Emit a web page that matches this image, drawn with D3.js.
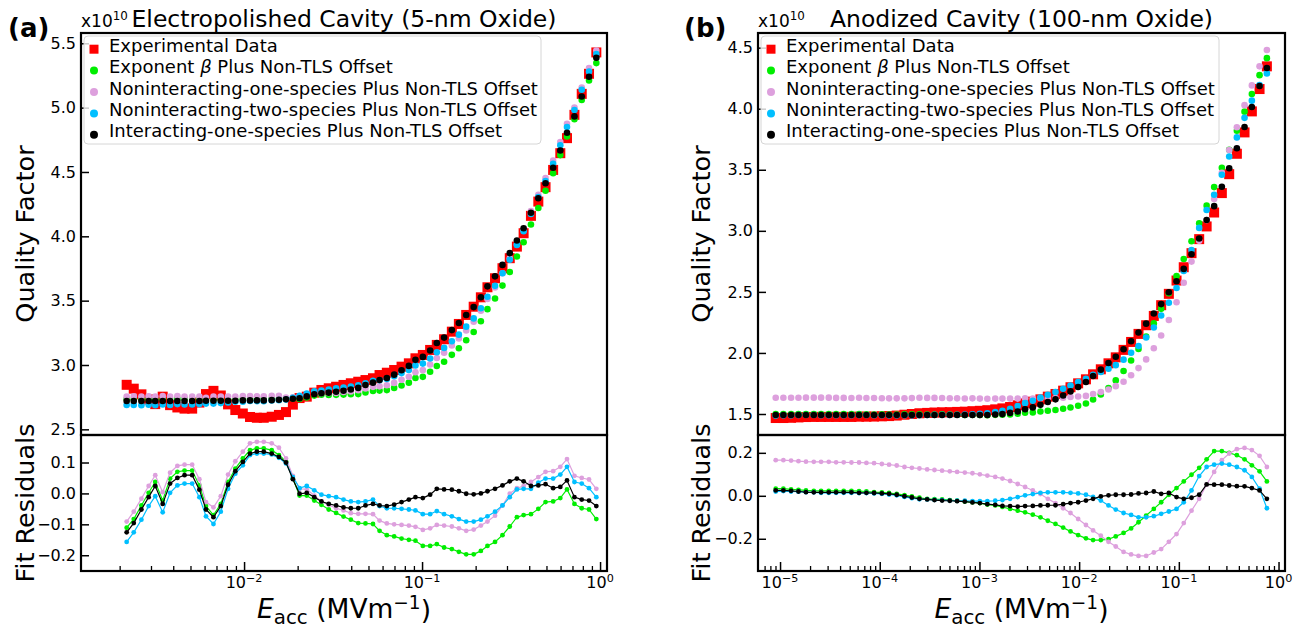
<!DOCTYPE html>
<html>
<head>
<meta charset="utf-8">
<script src="https://cdnjs.cloudflare.com/ajax/libs/d3/7.8.5/d3.min.js"></script>
<style>
  body { margin: 0; background: #fff; }
  text { font-family: "DejaVu Sans", sans-serif; }
</style>
</head>
<body>
<svg id="chart" width="1302" height="628"></svg>
<script>
// legend / series
const seriesLabels = ["Experimental Data", "Exponent \u03b2 Plus Non-TLS Offset",
  "Noninteracting-one-species Plus Non-TLS Offset", "Noninteracting-two-species Plus Non-TLS Offset",
  "Interacting-one-species Plus Non-TLS Offset"];
const seriesColors = ["#ff0000", "#00ee00", "#dda0dd", "#00bfff", "#000000"];

// ---- panel (a): electropolished cavity ----
const eaccA = [0.00219, 0.00240, 0.00265, 0.00291, 0.00317, 0.00349, 0.00384, 0.00422, 0.00463, 0.00511,
  0.00561, 0.00611, 0.00673, 0.00740, 0.00813, 0.00893, 0.00984, 0.0108, 0.0118, 0.0129,
  0.0143, 0.0157, 0.0172, 0.0188, 0.0205, 0.0225, 0.0248, 0.0272, 0.0299, 0.0329,
  0.0362, 0.0398, 0.0438, 0.0481, 0.0530, 0.0577, 0.0634, 0.0697, 0.0767, 0.0843,
  0.0918, 0.101, 0.111, 0.121, 0.133, 0.147, 0.161, 0.177, 0.195, 0.214,
  0.233, 0.257, 0.283, 0.311, 0.341, 0.372, 0.409, 0.450, 0.494, 0.545,
  0.598, 0.652, 0.718, 0.789, 0.867, 0.953];
const qExpA = [2.846, 2.816, 2.772, 2.732, 2.696, 2.754, 2.688, 2.670, 2.661, 2.661,
  2.708, 2.774, 2.799, 2.763, 2.694, 2.650, 2.623, 2.596, 2.590, 2.590,
  2.598, 2.612, 2.634, 2.692, 2.743, 2.754, 2.785, 2.806, 2.819, 2.831,
  2.845, 2.858, 2.870, 2.883, 2.897, 2.922, 2.940, 2.961, 2.987, 3.013,
  3.052, 3.078, 3.117, 3.156, 3.200, 3.259, 3.319, 3.389, 3.453, 3.526,
  3.604, 3.674, 3.752, 3.830, 3.920, 4.024, 4.159, 4.270, 4.382, 4.516,
  4.646, 4.763, 4.944, 5.107, 5.263, 5.429];
const qBetaA = [2.735, 2.733, 2.733, 2.734, 2.733, 2.731, 2.736, 2.740, 2.735, 2.735,
  2.734, 2.733, 2.729, 2.729, 2.731, 2.730, 2.736, 2.736, 2.736, 2.736,
  2.738, 2.736, 2.738, 2.740, 2.736, 2.747, 2.762, 2.769, 2.767, 2.768,
  2.770, 2.773, 2.774, 2.786, 2.798, 2.801, 2.805, 2.822, 2.841, 2.863,
  2.899, 2.908, 2.947, 2.992, 3.025, 3.079, 3.130, 3.192, 3.256, 3.340,
  3.434, 3.517, 3.617, 3.723, 3.843, 3.954, 4.092, 4.220, 4.354, 4.490,
  4.631, 4.776, 4.910, 5.059, 5.211, 5.346];
const qNonOneA = [2.755, 2.757, 2.755, 2.756, 2.755, 2.758, 2.755, 2.759, 2.754, 2.754,
  2.754, 2.746, 2.754, 2.754, 2.755, 2.754, 2.758, 2.758, 2.757, 2.757,
  2.760, 2.760, 2.747, 2.749, 2.758, 2.767, 2.778, 2.780, 2.782, 2.783,
  2.790, 2.794, 2.804, 2.817, 2.830, 2.834, 2.843, 2.861, 2.885, 2.909,
  2.944, 2.960, 3.004, 3.054, 3.096, 3.152, 3.206, 3.268, 3.336, 3.422,
  3.513, 3.602, 3.713, 3.829, 3.937, 4.048, 4.196, 4.323, 4.452, 4.588,
  4.732, 4.874, 5.001, 5.157, 5.308, 5.444];
const qNonTwoA = [2.689, 2.690, 2.687, 2.691, 2.687, 2.693, 2.690, 2.696, 2.693, 2.693,
  2.696, 2.700, 2.700, 2.704, 2.709, 2.714, 2.714, 2.720, 2.719, 2.719,
  2.724, 2.727, 2.731, 2.745, 2.760, 2.778, 2.795, 2.802, 2.810, 2.819,
  2.825, 2.832, 2.842, 2.857, 2.877, 2.881, 2.892, 2.913, 2.937, 2.961,
  2.997, 3.011, 3.050, 3.099, 3.133, 3.185, 3.236, 3.298, 3.362, 3.441,
  3.530, 3.615, 3.713, 3.818, 3.933, 4.039, 4.174, 4.305, 4.430, 4.564,
  4.707, 4.849, 4.981, 5.139, 5.280, 5.417];
const qIntOneA = [2.720, 2.720, 2.720, 2.720, 2.720, 2.720, 2.720, 2.720, 2.720, 2.720,
  2.720, 2.722, 2.722, 2.722, 2.722, 2.722, 2.725, 2.725, 2.725, 2.725,
  2.727, 2.730, 2.734, 2.738, 2.742, 2.756, 2.773, 2.780, 2.785, 2.792,
  2.800, 2.810, 2.822, 2.844, 2.863, 2.883, 2.899, 2.925, 2.959, 2.993,
  3.040, 3.063, 3.113, 3.171, 3.213, 3.271, 3.326, 3.388, 3.450, 3.526,
  3.611, 3.689, 3.778, 3.869, 3.968, 4.063, 4.183, 4.296, 4.412, 4.533,
  4.667, 4.805, 4.932, 5.087, 5.240, 5.388];
const resBetaA = [-0.111, -0.083, -0.039, 0.002, 0.037, -0.023, 0.048, 0.070, 0.074, 0.074,
  0.026, -0.041, -0.070, -0.034, 0.037, 0.080, 0.113, 0.140, 0.146, 0.146,
  0.140, 0.124, 0.104, 0.048, -0.007, -0.007, -0.023, -0.037, -0.052, -0.063,
  -0.075, -0.085, -0.096, -0.097, -0.099, -0.121, -0.135, -0.139, -0.146, -0.150,
  -0.153, -0.170, -0.170, -0.164, -0.175, -0.180, -0.189, -0.197, -0.197, -0.186,
  -0.170, -0.157, -0.135, -0.107, -0.077, -0.070, -0.067, -0.050, -0.028, -0.026,
  -0.015, 0.013, -0.034, -0.048, -0.052, -0.083];
const resNonOneA = [-0.091, -0.059, -0.017, 0.024, 0.059, 0.004, 0.067, 0.089, 0.093, 0.093,
  0.046, -0.028, -0.045, -0.009, 0.061, 0.104, 0.135, 0.162, 0.167, 0.167,
  0.162, 0.148, 0.113, 0.057, 0.015, 0.013, -0.007, -0.026, -0.037, -0.048,
  -0.055, -0.064, -0.066, -0.066, -0.067, -0.088, -0.097, -0.100, -0.102, -0.104,
  -0.108, -0.118, -0.113, -0.102, -0.104, -0.107, -0.113, -0.121, -0.117, -0.104,
  -0.091, -0.072, -0.039, -0.001, 0.017, 0.024, 0.037, 0.053, 0.070, 0.072,
  0.086, 0.111, 0.057, 0.050, 0.045, 0.015];
const resNonTwoA = [-0.157, -0.126, -0.085, -0.041, -0.009, -0.061, 0.002, 0.026, 0.032, 0.032,
  -0.012, -0.074, -0.099, -0.059, 0.015, 0.064, 0.091, 0.124, 0.129, 0.129,
  0.126, 0.115, 0.097, 0.053, 0.017, 0.024, 0.010, -0.004, -0.009, -0.012,
  -0.020, -0.026, -0.028, -0.026, -0.020, -0.041, -0.048, -0.048, -0.050, -0.052,
  -0.055, -0.067, -0.067, -0.057, -0.067, -0.074, -0.083, -0.091, -0.091, -0.085,
  -0.074, -0.059, -0.039, -0.012, 0.013, 0.015, 0.015, 0.035, 0.048, 0.048,
  0.061, 0.086, 0.037, 0.032, 0.017, -0.012];
const resIntOneA = [-0.126, -0.096, -0.052, -0.012, 0.024, -0.034, 0.032, 0.050, 0.059, 0.059,
  0.012, -0.052, -0.077, -0.041, 0.028, 0.072, 0.102, 0.129, 0.135, 0.135,
  0.129, 0.118, 0.100, 0.046, -0.001, 0.002, -0.012, -0.026, -0.034, -0.039,
  -0.045, -0.048, -0.048, -0.039, -0.034, -0.039, -0.041, -0.036, -0.028, -0.020,
  -0.012, -0.015, -0.004, 0.015, 0.013, 0.012, 0.007, -0.001, -0.003, 0.000,
  0.007, 0.015, 0.026, 0.039, 0.048, 0.039, 0.024, 0.026, 0.030, 0.017,
  0.021, 0.042, -0.012, -0.020, -0.023, -0.041];
const qTicksA = [2.5, 3.0, 3.5, 4.0, 4.5, 5.0, 5.5];
const resTicksA = [-0.2, -0.1, 0.0, 0.1];
const xMajorA = [0.01, 0.1, 1];

// ---- panel (b): anodized cavity ----
const eaccB = [9.05e-6, 1.08e-5, 1.29e-5, 1.53e-5, 1.82e-5, 2.18e-5, 2.58e-5, 3.08e-5, 3.65e-5, 4.35e-5,
  5.20e-5, 6.20e-5, 7.35e-5, 8.77e-5, 1.05e-4, 1.24e-4, 1.48e-4, 1.77e-4, 2.10e-4, 2.50e-4,
  2.99e-4, 3.54e-4, 4.22e-4, 5.04e-4, 5.97e-4, 7.13e-4, 8.51e-4, 1.01e-3, 1.20e-3, 1.44e-3,
  1.70e-3, 2.03e-3, 2.42e-3, 2.87e-3, 3.43e-3, 4.09e-3, 4.85e-3, 5.79e-3, 6.91e-3, 8.19e-3,
  9.77e-3, 1.17e-2, 1.38e-2, 1.65e-2, 1.97e-2, 2.33e-2, 2.79e-2, 3.32e-2, 3.94e-2, 4.70e-2,
  5.61e-2, 6.65e-2, 7.94e-2, 9.48e-2, 0.112, 0.134, 0.160, 0.190, 0.226, 0.270,
  0.320, 0.382, 0.456, 0.540, 0.645, 0.764];
const qExpB = [1.467, 1.467, 1.469, 1.472, 1.475, 1.476, 1.476, 1.476, 1.476, 1.476,
  1.476, 1.478, 1.478, 1.479, 1.481, 1.483, 1.487, 1.494, 1.500, 1.506,
  1.509, 1.512, 1.514, 1.515, 1.517, 1.519, 1.523, 1.526, 1.531, 1.538,
  1.546, 1.557, 1.571, 1.587, 1.601, 1.620, 1.642, 1.664, 1.691, 1.719,
  1.751, 1.784, 1.825, 1.866, 1.915, 1.964, 2.025, 2.090, 2.156, 2.227,
  2.303, 2.391, 2.484, 2.593, 2.702, 2.817, 2.932, 3.036, 3.150, 3.309,
  3.464, 3.631, 3.806, 3.978, 4.161, 4.347];
const qBetaB = [1.500, 1.500, 1.499, 1.500, 1.500, 1.499, 1.499, 1.499, 1.499, 1.499,
  1.499, 1.500, 1.498, 1.496, 1.497, 1.496, 1.496, 1.497, 1.497, 1.497,
  1.495, 1.496, 1.497, 1.495, 1.494, 1.492, 1.493, 1.492, 1.490, 1.493,
  1.494, 1.496, 1.502, 1.510, 1.513, 1.520, 1.526, 1.533, 1.543, 1.553,
  1.568, 1.586, 1.619, 1.660, 1.713, 1.775, 1.852, 1.938, 2.033, 2.135,
  2.242, 2.361, 2.489, 2.629, 2.769, 2.915, 3.062, 3.206, 3.358, 3.517,
  3.664, 3.820, 3.976, 4.120, 4.275, 4.414];
const qNonOneB = [1.633, 1.633, 1.633, 1.633, 1.634, 1.634, 1.634, 1.634, 1.632, 1.632,
  1.631, 1.633, 1.631, 1.631, 1.629, 1.628, 1.628, 1.628, 1.630, 1.633,
  1.632, 1.632, 1.631, 1.629, 1.628, 1.627, 1.628, 1.626, 1.625, 1.626,
  1.626, 1.626, 1.626, 1.628, 1.626, 1.628, 1.628, 1.630, 1.633, 1.639,
  1.643, 1.648, 1.664, 1.680, 1.701, 1.728, 1.764, 1.817, 1.876, 1.947,
  2.039, 2.143, 2.270, 2.415, 2.575, 2.748, 2.918, 3.088, 3.261, 3.475,
  3.661, 3.848, 4.029, 4.191, 4.347, 4.481];
const qNonTwoB = [1.487, 1.489, 1.489, 1.491, 1.492, 1.492, 1.490, 1.490, 1.490, 1.490,
  1.490, 1.491, 1.491, 1.490, 1.490, 1.489, 1.489, 1.489, 1.489, 1.490,
  1.492, 1.493, 1.494, 1.493, 1.494, 1.496, 1.498, 1.501, 1.506, 1.515,
  1.526, 1.543, 1.565, 1.589, 1.609, 1.634, 1.658, 1.680, 1.707, 1.733,
  1.762, 1.789, 1.820, 1.844, 1.870, 1.900, 1.945, 2.001, 2.056, 2.127,
  2.208, 2.307, 2.411, 2.532, 2.672, 2.842, 3.024, 3.170, 3.295, 3.459,
  3.609, 3.765, 3.925, 4.066, 4.194, 4.289];
const qIntOneB = [1.492, 1.492, 1.492, 1.492, 1.492, 1.492, 1.492, 1.492, 1.492, 1.492,
  1.492, 1.492, 1.492, 1.492, 1.492, 1.492, 1.492, 1.492, 1.492, 1.492,
  1.492, 1.492, 1.492, 1.492, 1.492, 1.492, 1.492, 1.492, 1.492, 1.496,
  1.499, 1.509, 1.521, 1.539, 1.554, 1.575, 1.598, 1.620, 1.652, 1.685,
  1.721, 1.762, 1.811, 1.863, 1.917, 1.969, 2.030, 2.096, 2.167, 2.240,
  2.323, 2.400, 2.497, 2.587, 2.688, 2.808, 2.937, 3.089, 3.202, 3.361,
  3.512, 3.676, 3.850, 4.014, 4.186, 4.333];
const resBetaB = [0.033, 0.033, 0.030, 0.028, 0.025, 0.023, 0.023, 0.023, 0.023, 0.023,
  0.023, 0.022, 0.020, 0.017, 0.016, 0.013, 0.009, 0.003, -0.003, -0.009,
  -0.014, -0.016, -0.017, -0.020, -0.023, -0.027, -0.030, -0.034, -0.041, -0.045,
  -0.052, -0.061, -0.069, -0.077, -0.088, -0.100, -0.116, -0.131, -0.148, -0.166,
  -0.183, -0.198, -0.206, -0.206, -0.202, -0.189, -0.173, -0.152, -0.123, -0.092,
  -0.061, -0.030, 0.005, 0.036, 0.067, 0.098, 0.130, 0.170, 0.208, 0.208,
  0.200, 0.189, 0.170, 0.142, 0.114, 0.067];
const resNonOneB = [0.166, 0.166, 0.164, 0.161, 0.159, 0.158, 0.158, 0.158, 0.156, 0.156,
  0.155, 0.155, 0.153, 0.152, 0.148, 0.145, 0.141, 0.134, 0.130, 0.127,
  0.123, 0.120, 0.117, 0.114, 0.111, 0.108, 0.105, 0.100, 0.094, 0.088,
  0.080, 0.069, 0.055, 0.041, 0.025, 0.008, -0.014, -0.034, -0.058, -0.080,
  -0.108, -0.136, -0.161, -0.186, -0.214, -0.236, -0.261, -0.273, -0.280, -0.280,
  -0.264, -0.248, -0.214, -0.178, -0.127, -0.069, -0.014, 0.052, 0.111, 0.166,
  0.197, 0.217, 0.223, 0.213, 0.186, 0.134];
const resNonTwoB = [0.020, 0.022, 0.020, 0.019, 0.017, 0.016, 0.014, 0.014, 0.014, 0.014,
  0.014, 0.013, 0.013, 0.011, 0.009, 0.006, 0.002, -0.005, -0.011, -0.016,
  -0.017, -0.019, -0.020, -0.022, -0.023, -0.023, -0.025, -0.025, -0.025, -0.023,
  -0.020, -0.014, -0.006, 0.002, 0.008, 0.014, 0.016, 0.016, 0.016, 0.014,
  0.011, 0.005, -0.005, -0.022, -0.045, -0.064, -0.080, -0.089, -0.100, -0.100,
  -0.095, -0.084, -0.073, -0.061, -0.030, 0.025, 0.092, 0.134, 0.145, 0.150,
  0.145, 0.134, 0.119, 0.088, 0.033, -0.058];
const resIntOneB = [0.025, 0.025, 0.023, 0.020, 0.017, 0.016, 0.016, 0.016, 0.016, 0.016,
  0.016, 0.014, 0.014, 0.013, 0.011, 0.009, 0.005, -0.002, -0.008, -0.014,
  -0.017, -0.020, -0.022, -0.023, -0.025, -0.027, -0.031, -0.034, -0.039, -0.042,
  -0.047, -0.048, -0.050, -0.048, -0.047, -0.045, -0.044, -0.044, -0.039, -0.034,
  -0.030, -0.022, -0.014, -0.003, 0.002, 0.005, 0.005, 0.006, 0.011, 0.013,
  0.020, 0.009, 0.013, -0.006, -0.014, -0.009, 0.005, 0.053, 0.052, 0.052,
  0.048, 0.045, 0.044, 0.036, 0.025, -0.014];
const qTicksB = [1.5, 2.0, 2.5, 3.0, 3.5, 4.0, 4.5];
const resTicksB = [-0.2, 0.0, 0.2];
const xMajorB = [1e-5, 1e-4, 1e-3, 1e-2, 1e-1, 1];

var svg = d3.select("#chart");

drawPanel({
  tag: "(a)", title: "Electropolished Cavity (5-nm Oxide)",
  left: 81, right: 607, top: 33, mid: 435, bottom: 571,
  xDomain: [0.001213, 1.094], qDomain: [2.456, 5.580], rDomain: [-0.251, 0.189],
  eacc: eaccA, q: [qExpA, qBetaA, qNonOneA, qNonTwoA, qIntOneA],
  res: [resBetaA, resNonOneA, resNonTwoA, resIntOneA],
  qTicks: qTicksA, resTicks: resTicksA, xMajor: xMajorA,
  tagX: 8, labelX: 25, legendRight: 541
});
drawPanel({
  tag: "(b)", title: "Anodized Cavity (100-nm Oxide)",
  left: 758, right: 1285, top: 33, mid: 435, bottom: 571,
  xDomain: [6.01e-6, 1.161], qDomain: [1.328, 4.620], rDomain: [-0.350, 0.283],
  eacc: eaccB, q: [qExpB, qBetaB, qNonOneB, qNonTwoB, qIntOneB],
  res: [resBetaB, resNonOneB, resNonTwoB, resIntOneB],
  qTicks: qTicksB, resTicks: resTicksB, xMajor: xMajorB,
  tagX: 684, labelX: 701, legendRight: 1219
});

function supLabel(sel, base, sup) {
  sel.append("tspan").text(base);
  sel.append("tspan").attr("font-size", "70%").attr("dy", "-0.55em").text(sup);
}

function drawPanel(p) {
  var x = d3.scaleLog().domain(p.xDomain).range([p.left, p.right]);
  var yq = d3.scaleLinear().domain(p.qDomain).range([p.mid, p.top]);
  var yr = d3.scaleLinear().domain(p.rDomain).range([p.bottom, p.mid]);
  var g = svg.append("g");
  var idx = d3.range(p.eacc.length);

  // quality factor: squares for data, dots for fits
  g.append("g").selectAll("rect")
    .data(idx).enter().append("rect")
    .attr("x", function(i) { return x(p.eacc[i]) - 5; })
    .attr("y", function(i) { return yq(p.q[0][i]) - 5; })
    .attr("width", 10).attr("height", 10)
    .attr("fill", seriesColors[0]);
  for (let k = 1; k < 5; k++) {
    g.append("g").selectAll("circle")
      .data(idx).enter().append("circle")
      .attr("cx", function(i) { return x(p.eacc[i]); })
      .attr("cy", function(i) { return yq(p.q[k][i]); })
      .attr("r", 3.3)
      .attr("fill", seriesColors[k]);
  }

  // residuals
  for (let k = 0; k < 4; k++) {
    var line = d3.line()
      .x(function(i) { return x(p.eacc[i]); })
      .y(function(i) { return yr(p.res[k][i]); });
    g.append("path").datum(idx)
      .attr("d", line).attr("fill", "none")
      .attr("stroke", seriesColors[k + 1]).attr("stroke-width", 1.2);
    g.append("g").selectAll("circle")
      .data(idx).enter().append("circle")
      .attr("cx", function(i) { return x(p.eacc[i]); })
      .attr("cy", function(i) { return yr(p.res[k][i]); })
      .attr("r", 2.4)
      .attr("fill", seriesColors[k + 1]);
  }

  // x axis ticks (inward), major + minor
  var minor = x.ticks().filter(function(t) { return p.xMajor.indexOf(t) < 0; });
  svg.append("g").attr("transform", "translate(0," + p.bottom + ")")
    .call(d3.axisBottom(x).tickValues(minor).tickSizeInner(-5).tickSizeOuter(0).tickFormat(""))
    .call(function(a) { a.select(".domain").remove(); a.selectAll("line").attr("stroke-width", 1.3); });
  svg.append("g").attr("transform", "translate(0," + p.bottom + ")")
    .call(d3.axisBottom(x).tickValues(p.xMajor).tickSizeInner(-9).tickSizeOuter(0).tickFormat(""))
    .call(function(a) { a.select(".domain").remove(); a.selectAll("line").attr("stroke-width", 1.5); });
  p.xMajor.forEach(function(t) {
    var lbl = svg.append("text").attr("x", x(t)).attr("y", p.bottom + 17)
      .attr("text-anchor", "middle").attr("font-size", 16);
    supLabel(lbl, "10", String(Math.round(Math.log10(t))).replace("-", "\u2212"));
  });

  // y axes
  [[yq, p.qTicks], [yr, p.resTicks]].forEach(function(pair) {
    svg.append("g").attr("transform", "translate(" + p.left + ",0)")
      .call(d3.axisLeft(pair[0]).tickValues(pair[1]).tickSizeInner(-8).tickSizeOuter(0)
        .tickPadding(5).tickFormat(d3.format(".1f")))
      .call(function(a) {
        a.select(".domain").remove();
        a.selectAll("line").attr("stroke-width", 1.5);
        a.selectAll("text").attr("font-size", 16).attr("font-family", "DejaVu Sans");
      });
  });

  // frames
  svg.append("rect").attr("x", p.left).attr("y", p.top)
    .attr("width", p.right - p.left).attr("height", p.mid - p.top)
    .attr("fill", "none").attr("stroke", "#000").attr("stroke-width", 2.2);
  svg.append("rect").attr("x", p.left).attr("y", p.mid)
    .attr("width", p.right - p.left).attr("height", p.bottom - p.mid)
    .attr("fill", "none").attr("stroke", "#000").attr("stroke-width", 2.2);

  // legend
  var lg = svg.append("g");
  var lx = p.left + 3;
  lg.append("rect").attr("x", lx).attr("y", 36)
    .attr("width", p.legendRight - lx).attr("height", 108).attr("rx", 4)
    .attr("fill", "#fff").attr("fill-opacity", 0.8)
    .attr("stroke", "#d6d6d6").attr("stroke-width", 1);
  seriesLabels.forEach(function(name, i) {
    var yb = 51.7 + i * 21.4;
    if (i === 0) {
      lg.append("rect").attr("x", lx + 10 - 4.5).attr("y", yb - 2.5 - 4.5)
        .attr("width", 9).attr("height", 9).attr("fill", seriesColors[0]);
    } else {
      lg.append("circle").attr("cx", lx + 10).attr("cy", yb - 2.5).attr("r", 4)
        .attr("fill", seriesColors[i]);
    }
    var t = lg.append("text").attr("x", lx + 25).attr("y", yb).attr("font-size", 18);
    if (i === 1) {
      t.append("tspan").text("Exponent ");
      t.append("tspan").attr("font-style", "italic").text("\u03b2");
      t.append("tspan").text(" Plus Non-TLS Offset");
    } else {
      t.text(name);
    }
  });

  // titles and labels
  var cx = (p.left + p.right) / 2;
  svg.append("text").attr("x", cx).attr("y", 27).attr("text-anchor", "middle")
    .attr("font-size", 23.5).text(p.title);
  var off = svg.append("text").attr("x", p.left).attr("y", 27).attr("font-size", 17);
  supLabel(off, "x10", "10");
  svg.append("text").attr("x", p.tagX).attr("y", 37)
    .attr("font-family", "Liberation Sans").attr("font-weight", "bold")
    .attr("font-size", 26).text(p.tag);

  svg.append("text").attr("transform", "translate(" + p.labelX + "," + ((p.top + p.mid) / 2) + ") rotate(-90)")
    .attr("text-anchor", "middle").attr("dominant-baseline", "central")
    .attr("font-size", 25.5).text("Quality Factor");
  svg.append("text").attr("transform", "translate(" + p.labelX + "," + ((p.mid + p.bottom) / 2) + ") rotate(-90)")
    .attr("text-anchor", "middle").attr("dominant-baseline", "central")
    .attr("font-size", 25.5).text("Fit Residuals");

  var xl = svg.append("text").attr("x", cx).attr("y", 618)
    .attr("text-anchor", "middle").attr("font-size", 26.5);
  xl.append("tspan").attr("font-style", "italic").text("E");
  xl.append("tspan").attr("font-size", "75%").attr("dy", "0.28em").text("acc");
  xl.append("tspan").attr("dy", "-0.21em").text(" (MVm");
  xl.append("tspan").attr("font-size", "70%").attr("dy", "-0.5em").text("\u22121");
  xl.append("tspan").attr("dy", "0.37em").text(")");
}
</script>
</body>
</html>
